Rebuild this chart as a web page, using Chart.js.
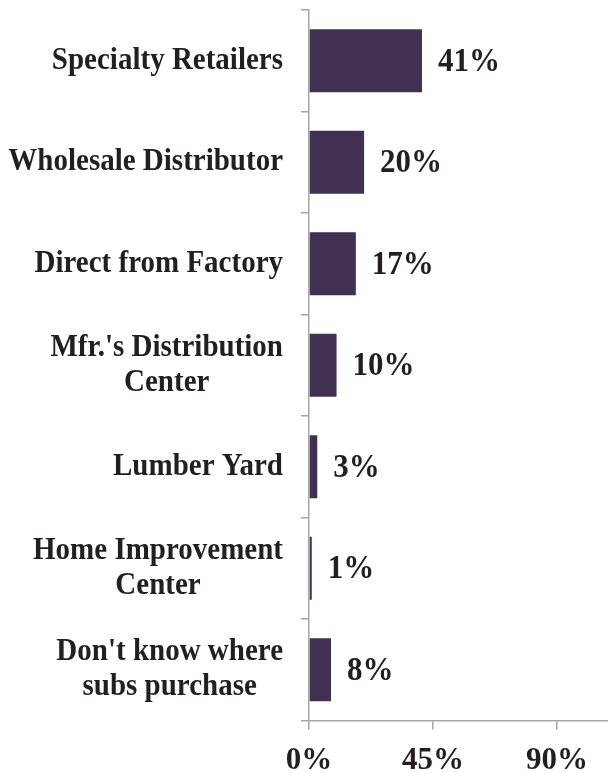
<!DOCTYPE html>
<html>
<head>
<meta charset="utf-8">
<script src="https://cdn.jsdelivr.net/npm/chart.js@4"></script>
<style>
    html, body { margin: 0; padding: 0; background: #ffffff; }
    #wrap { width: 608px; height: 773px; }
</style>
</head>
<body>
<div id="wrap"><canvas id="purchaseChart" width="608" height="773"></canvas></div>
<script>
// Where subs purchase
const categories = [
    ['Specialty Retailers'],
    ['Wholesale Distributor'],
    ['Direct from Factory'],
    ["Mfr.'s Distribution", 'Center'],
    ['Lumber Yard'],
    ['Home Improvement', 'Center'],
    ["Don't know where", 'subs purchase']
];
const shares = [41, 20, 17, 10, 3, 1, 8];
const xTicks = [0, 45, 90];

const textColor = '#231f20';
const axisColor = '#a6a6a6';
const serif = "'Liberation Serif', 'Times New Roman', serif";
const stretch = 1.1; // text is a little taller than wide

// draws one line of text stretched vertically around its centre
function tallText(ctx, text, x, y) {
    ctx.save();
    ctx.translate(x, y);
    ctx.scale(1, stretch);
    ctx.fillText(text, 0, 0);
    ctx.restore();
}

// category names, each block right-aligned, lines centred within the block
const categoryLabels = {
    id: 'categoryLabels',
    afterDraw(chart) {
        const ctx = chart.ctx;
        const yScale = chart.scales.y;
        const right = 283;
        const lineGap = 35;
        ctx.save();
        ctx.font = 'bold 29px ' + serif;
        ctx.fillStyle = textColor;
        ctx.textAlign = 'center';
        ctx.textBaseline = 'middle';
        categories.forEach((lines, i) => {
            const widest = Math.max(...lines.map(l => ctx.measureText(l).width));
            const cx = right - widest / 2;
            const cy = yScale.getPixelForValue(i);
            lines.forEach((line, j) => {
                tallText(ctx, line, cx, cy + (j - (lines.length - 1) / 2) * lineGap);
            });
        });
        ctx.restore();
    }
};

// percentage next to each bar
const valueLabels = {
    id: 'valueLabels',
    afterDatasetsDraw(chart) {
        const ctx = chart.ctx;
        const meta = chart.getDatasetMeta(0);
        ctx.save();
        ctx.font = 'bold 31px ' + serif;
        ctx.fillStyle = textColor;
        ctx.textAlign = 'left';
        ctx.textBaseline = 'middle';
        meta.data.forEach((bar, i) => {
            tallText(ctx, shares[i] + '%', bar.x + 16, bar.y + 1);
        });
        ctx.restore();
    }
};

new Chart(document.querySelector('#purchaseChart'), {
    type: 'bar',
    data: {
        labels: categories,
        datasets: [{
            data: shares,
            backgroundColor: '#403152',
            barPercentage: 0.62,
            categoryPercentage: 1
        }]
    },
    options: {
        indexAxis: 'y',
        responsive: false,
        animation: false,
        layout: { padding: { top: 10, right: 0, bottom: 0, left: 0 } },
        plugins: {
            legend: { display: false },
            tooltip: { enabled: false }
        },
        scales: {
            x: {
                min: 0,
                max: 108.5,
                afterFit: (scale) => { scale.height = 52.5; },
                afterBuildTicks: (scale) => {
                    scale.ticks = xTicks.map(v => ({ value: v }));
                },
                border: { display: true, color: axisColor, width: 1.5 },
                grid: {
                    drawOnChartArea: false,
                    drawTicks: true,
                    tickLength: 9,
                    color: axisColor,
                    lineWidth: 1.5
                },
                ticks: {
                    padding: 13,
                    color: textColor,
                    font: { family: serif, size: 31, weight: 'bold' },
                    callback: (v) => v + '%',
                    maxRotation: 0
                }
            },
            y: {
                afterFit: (scale) => { scale.width = 309; },
                border: { display: true, color: axisColor, width: 1.5 },
                grid: {
                    offset: true,
                    drawOnChartArea: false,
                    drawTicks: true,
                    tickLength: 8,
                    color: axisColor,
                    lineWidth: 1.5
                },
                ticks: { display: false }
            }
        }
    },
    plugins: [categoryLabels, valueLabels]
});
</script>
</body>
</html>
